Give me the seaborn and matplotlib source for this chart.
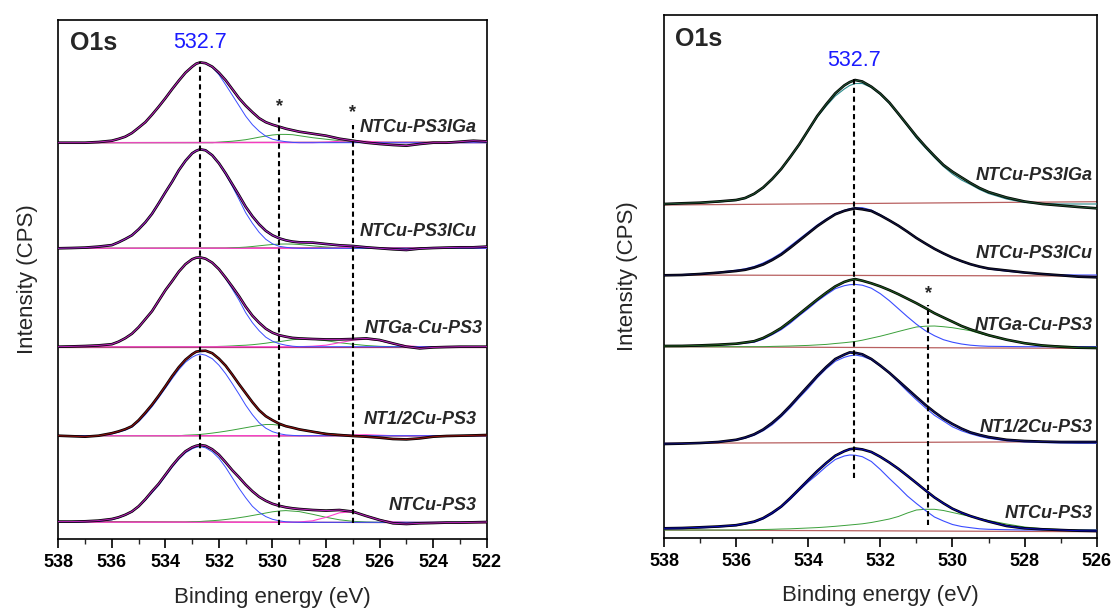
import numpy as np
import pandas as pd
import matplotlib
matplotlib.use("Agg")
import matplotlib.pyplot as plt
import seaborn as sns

# ---------------- DATA ----------------
samples = ["NTCu-PS3IGa", "NTCu-PS3ICu", "NTGa-Cu-PS3", "NT1/2Cu-PS3", "NTCu-PS3"]

# Left panel energy grid (eV)
E_L = [538, 537.5, 537, 536.5,
       536, 535.75, 535.5, 535.25, 535, 534.75, 534.5, 534.25,
       534, 533.75, 533.5, 533.25, 533, 532.85, 532.7, 532.5,
       532.25, 532, 531.75, 531.5, 531.25, 531, 530.75, 530.5,
       530.25, 530, 529.75, 529.5, 529.25, 529,
       528.5, 528, 527.5, 527, 526.5, 526, 525.5, 525,
       524.5, 524, 523.5, 523, 522.5, 522]
# stacking offsets (baseline level of each spectrum, arb. units)
OFF_L = [396.3, 290.7, 192.3, 103.3, 16.7]

L1_env = [0, 0, 0, 0.7,
          2, 3.8, 6, 9.7, 15, 20.5, 28, 36,
          44.5, 53.5, 62, 70, 76, 79, 80.3, 79.5,
          76, 70, 62.5, 53.5, 44.5, 37, 30.5, 24.5,
          20.5, 18, 16, 14, 12.5, 11,
          9, 7, 4, 2, 0, -1.3, -2.3, -3,
          -1.3, 0, 0, 1, 2, 1.3]
L1_blue = [0, 0, 0, 0.5,
           1.8, 3.5, 5.8, 9.5, 14.8, 20.3, 27.8, 35.8,
           44.3, 53.3, 61.8, 69.8, 75.8, 79, 80.3, 79,
           75.5, 68, 58, 47.5, 37, 26.5, 18, 11.5,
           6.5, 3.5, 2, 1, 0.3, 0,
           0, 0, 0, 0, 0, 0, 0, 0,
           0, 0, 0, 0, 0, 0]
L1_green = [0, 0, 0, 0,
            0, 0, 0, 0, 0, 0, 0, 0,
            0, 0, 0, 0, 0, 0, 0, 0,
            0, 0.5, 1, 1.5, 2.2, 3, 4.2, 5.5,
            6.7, 7.7, 8.3, 8.3, 8, 7,
            5, 3.5, 2, 1, 0.3, 0, 0, 0,
            0, 0, 0, 0, 0, 0]
L1_mag = [0, 0, 0, 0,
          0, 0, 0, 0, 0, 0, 0, 0,
          0, 0, 0, 0, 0, 0, 0, 0,
          0, 0, 0, 0, 0, 0, 0, 0,
          0, 0, 0, 0, 0, 0,
          0, 0.5, 1.5, 2, 1.5, 0.5, 0, 0,
          0, 0, 0, 0, 0, 0]

L2_env = [0, 0.3, 0.7, 1.7,
          3.2, 6, 9.3, 13, 19, 26, 34.5, 45,
          56, 66.5, 78, 87.5, 95, 97.5, 99, 98,
          93, 85, 75, 64, 53, 41.5, 32, 24,
          17.5, 13, 10, 8, 6.7, 6,
          5.7, 4.3, 3, 2.3, 1, 0, -1, -1.7,
          -0.3, 0.3, 0.7, 1, 1, 1.7]
L2_blue = [0, 0.3, 0.7, 1.7,
           3.2, 6, 9.3, 13, 19, 26, 34.5, 45,
           56, 66.5, 78, 87.5, 95, 97.5, 99, 98,
           93, 85, 74, 62, 49, 35.5, 25, 16,
           9, 4.5, 2, 1, 0.3, 0,
           0, 0, 0, 0, 0, 0, 0, 0,
           0, 0, 0, 0, 0, 0]
L2_green = [0, 0, 0, 0,
            0, 0, 0, 0, 0, 0, 0, 0,
            0, 0, 0, 0, 0, 0, 0, 0,
            0, 0, 0, 0.5, 0.8, 1.2, 1.8, 2.5,
            3.2, 3.8, 4.2, 4.3, 4.2, 3.8,
            2.5, 1.3, 0.5, 0, 0, 0, 0, 0,
            0, 0, 0, 0, 0, 0]
L2_mag = [0, 0, 0, 0,
          0, 0, 0, 0, 0, 0, 0, 0,
          0, 0, 0, 0, 0, 0, 0, 0,
          0, 0, 0, 0, 0, 0, 0, 0,
          0, 0, 0, 0, 0, 0,
          0, 0, 0.5, 1.2, 1, 0.3, 0, 0,
          0, 0, 0, 0, 0, 0]

L3_env = [0, 0.3, 0.7, 1.3,
          2.5, 5, 8.5, 13, 19.5, 27.5, 35.5, 46,
          56.5, 65.5, 75, 82.5, 87.5, 89, 89.3, 88,
          84, 77.5, 69, 60, 50.5, 40, 31, 24,
          18, 14, 11.5, 10, 8.8, 8.3,
          7.7, 7.3, 7.3, 7.7, 8.3, 6.7, 3.3, 0,
          -1.7, -0.7, -0.3, 0, 0, 0]
L3_blue = [0, 0.3, 0.7, 1.3,
           2.5, 5, 8.5, 13, 19.5, 27.5, 35.5, 46,
           56.5, 65.5, 75, 82.5, 87.5, 89, 89.3, 88,
           84, 77.5, 68, 57.5, 46.5, 34, 24, 16,
           9.5, 5.5, 3, 1.5, 0.5, 0,
           0, 0, 0, 0, 0, 0, 0, 0,
           0, 0, 0, 0, 0, 0]
L3_green = [0, 0, 0, 0,
            0, 0, 0, 0, 0, 0, 0, 0,
            0, 0, 0, 0, 0, 0, 0, 0,
            0, 0.3, 0.5, 0.8, 1.2, 1.5, 2, 2.7,
            3.5, 4.5, 5, 6, 7, 7.5,
            7.5, 6, 4, 2.5, 1.2, 0.4, 0, 0,
            0, 0, 0, 0, 0, 0]
L3_mag = [0, 0, 0, 0,
          0, 0, 0, 0, 0, 0, 0, 0,
          0, 0, 0, 0, 0, 0, 0, 0,
          0, 0, 0, 0, 0, 0, 0, 0,
          0, 0, 0, 0, 0, 0,
          0.5, 1.5, 4, 6.5, 7.5, 6, 3, 1,
          0, 0, 0, 0, 0, 0]

L4_env = [0, -0.5, -1, 0,
          2.5, 4.3, 6.5, 9.5, 15.5, 23, 31, 40,
          49.5, 59.5, 68.5, 76, 81.5, 84, 84.7, 85,
          82.5, 77, 70, 61, 51.5, 42.5, 33.5, 25.5,
          19.5, 15.5, 12, 9.5, 8, 6.3,
          4, 1.7, 0.7, -0.3, -1, -2, -3.3, -3.7,
          -2.7, -1, -0.3, 0, 0.3, 0.7]
L4_blue = [0, 0, 0, 0,
           1.8, 3.5, 5.5, 8.5, 14, 21, 29, 38,
           47.5, 57, 66, 73.5, 78.5, 80.5, 81.7, 80.5,
           77, 70.5, 62, 52, 41.5, 30.5, 21, 13,
           7.5, 4, 2, 0.8, 0.3, 0,
           0, 0, 0, 0, 0, 0, 0, 0,
           0, 0, 0, 0, 0, 0]
L4_green = [0, 0, 0, 0,
            0, 0, 0, 0, 0, 0, 0, 0,
            0, 0, 0, 0.5, 0.8, 1, 1.3, 1.8,
            2.6, 3.5, 4.5, 5.6, 6.8, 8, 9.2, 10.3,
            11.2, 11.2, 10.5, 9.5, 8, 6.5,
            4.3, 2.5, 1, 0.3, 0, 0, 0, 0,
            0, 0, 0, 0, 0, 0]
L4_mag = [0, 0, 0, 0,
          0, 0, 0, 0, 0, 0, 0, 0,
          0, 0, 0, 0, 0, 0, 0, 0,
          0, 0, 0, 0, 0, 0, 0, 0,
          0, 0, 0, 0, 0, 0,
          0, 0, 0.3, 0.8, 1, 0.5, 0, 0,
          0, 0, 0, 0, 0, 0]

L5_env = [0.7, 0.7, 1, 1.7,
          3.3, 5, 7.5, 10.8, 16, 23, 31, 38.5,
          47.5, 56.5, 64.5, 71, 75, 76.5, 77.3, 76.5,
          73, 67.5, 60, 52, 45, 37.5, 31, 25.5,
          21.5, 18.5, 16.5, 15, 14, 13.3,
          12.3, 11.7, 12.3, 10.7, 6.3, 2.3, -1, -1.7,
          -1, -0.7, -0.3, -0.3, 0, 0.3]
L5_blue = [0, 0, 0.5, 1,
           2.5, 4.5, 7, 10.3, 15.5, 22, 29.5, 37,
           46, 55, 63, 69.5, 73.5, 75, 75.7, 74.5,
           70.5, 64, 55, 44.5, 34, 24.5, 16, 10,
           5.7, 3, 1.5, 0.5, 0.2, 0,
           0, 0, 0, 0, 0, 0, 0, 0,
           0, 0, 0, 0, 0, 0]
L5_green = [0, 0, 0, 0,
            0, 0, 0, 0, 0, 0, 0, 0,
            0, 0, 0, 0, 0.5, 0.6, 0.8, 1.2,
            1.6, 2.1, 2.8, 3.6, 4.6, 5.6, 6.8, 8,
            9.3, 10.5, 11.3, 11.7, 11.2, 10.7,
            8, 5, 2.5, 1, 0.3, 0, 0, 0,
            0, 0, 0, 0, 0, 0]
L5_mag = [0, 0, 0, 0,
          0, 0, 0, 0, 0, 0, 0, 0,
          0, 0, 0, 0, 0, 0, 0, 0,
          0, 0, 0, 0, 0, 0, 0, 0,
          0, 0, 0, 0, 0, 0.3,
          1.5, 5, 9.5, 10.5, 6.5, 2.5, 0.5, 0,
          0, 0, 0, 0, 0, 0]

# baseline (start, end) relative to offset
BASE_L = [(0, 0.7), (0, 0.7), (0, 0), (0, -0.3), (0.7, -0.5)]

# Right panel energy grid (eV)
E_R = [538, 537.5, 537, 536.5,
       536, 535.75, 535.5, 535.25, 535, 534.75, 534.5, 534.25,
       534, 533.75, 533.5, 533.25, 533, 532.85, 532.7, 532.5,
       532.25, 532, 531.75, 531.5, 531.25, 531, 530.75, 530.5,
       530.25, 530, 529.75, 529.5, 529.25, 529,
       528.5, 528, 527.5, 527, 526.5, 526]
OFF_R = [334, 263, 191.3, 94.7, 8]

R1_env = [0, 0.7, 1.3, 2.5,
          4, 6, 10.2, 16.5, 25, 35, 47, 59.6,
          73.8, 88, 99.8, 110.7, 118.6, 121.9, 124, 122.5,
          117.3, 110.3, 101.4, 90.3, 79, 67.7, 57.5, 48,
          39, 32.3, 26.6, 21, 16, 12,
          6.5, 2.5, 0, -1.5, -3, -4.3]
R1_comp = [0, 0.5, 1, 2,
           3.5, 5.5, 9.7, 16, 24.5, 34.5, 46.5, 59,
           73, 87, 98, 108, 115, 118.5, 120.5, 120.5,
           116.5, 109.5, 100.5, 89.5, 78, 66, 56, 46.5,
           37.5, 30, 24, 19.5, 14.5, 10.5,
           5, 1.5, 0.5, 0, 0, 0]
R2_env = [-0.3, 0, 1, 2.3,
          4, 5.2, 7.4, 10.5, 15, 20.4, 27.2, 34.4,
          41.6, 48.8, 55, 60.7, 64.1, 65.5, 66.6, 65.7,
          64, 59.6, 54.6, 49.3, 43.3, 37, 31.5, 26.2,
          21.6, 17.4, 13.9, 10.8, 8.4, 6.5,
          4.5, 2.5, 1, -0.3, -1.7, -2.3]
R2_blue = [0, 0.5, 1.3, 2.8,
           4.8, 6.2, 8.5, 12, 16.5, 22, 29, 36,
           43, 50, 56, 61.5, 64.8, 66.3, 67.3, 67.3,
           65, 60.3, 55, 49.5, 43.3, 37, 31.3, 26,
           21.3, 17, 13.5, 10.5, 8, 6,
           3.8, 2, 0.8, 0.2, 0, 0]
R3_env = [0.7, 0.8, 1.3, 2,
          3, 4.2, 5.5, 8.7, 13.3, 18.7, 25.5, 32.7,
          40, 47.2, 54, 60.3, 64.8, 66.5, 67.6, 66,
          63.4, 60.3, 56.6, 52.5, 48, 43.5, 38.6, 33.5,
          29.2, 25, 20.7, 17.3, 14.4, 11.5,
          7, 3.5, 1.2, 0, -1, -1.3]
R3_blue = [0.5, 0.7, 1, 1.6,
           2.5, 3.5, 4.5, 7.5, 12, 17, 23.5, 31,
           38, 45.5, 52, 58, 61, 62, 62.3, 61.5,
           58.5, 53, 46, 38, 30, 22.5, 16, 11,
           7, 4.5, 2.7, 1.5, 0.8, 0.4,
           0.2, 0, 0, 0, 0, 0]
R3_green = [0, 0, 0, 0,
            0, 0, 0, 0, 0.3, 0.5, 0.7, 1,
            1.3, 1.8, 2.3, 3.2, 4, 4.6, 5.2, 6.5,
            8.5, 10.5, 12.8, 15.2, 17.5, 19.7, 20.5, 20.7,
            20, 19, 17.5, 16, 13.3, 11,
            7, 3.5, 1.5, 0.5, 0.2, 0]
R4_env = [-0.7, -0.3, 0.3, 1.3,
          3.5, 5.8, 9, 13.8, 20.4, 28.2, 37.5, 47.5,
          57.4, 67.3, 76.3, 84.3, 88.7, 90.9, 90.5, 89,
          84.3, 77.7, 70.5, 62.5, 54.4, 46.3, 38.4, 31.2,
          24.7, 19.3, 14.7, 10.9, 8.4, 6.3,
          3.5, 2.3, 1.7, 1.3, 1.3, 1.3]
R4_blue = [0, 0, 0.3, 1.2,
           3, 5, 8, 12.5, 18.5, 26.5, 35.5, 45.5,
           55, 65.5, 74.5, 82, 86, 87.5, 88.3, 87,
           83.5, 77, 70, 61, 52, 43.5, 35.5, 28,
           22.3, 16.5, 12.5, 9.5, 7, 5,
           2.5, 1.3, 0.7, 0.3, 0, 0]
R5_env = [1.7, 2, 2.7, 3.5,
          4.8, 6.5, 8.4, 11.9, 17.2, 23.5, 31.9, 40.9,
          50, 58.9, 67, 74.3, 78.8, 80.8, 81.5, 80.6,
          78, 73.2, 67.5, 61.2, 54.2, 47, 39.7, 32.6,
          26.7, 21.3, 17.3, 13.9, 11.1, 8.5,
          4, 1.7, 0.7, 0, -0.7, -1]
R5_blue = [1, 1.3, 2, 3,
           4.3, 5.8, 7.5, 11, 16, 22.5, 30.5, 39.5,
           48, 55.5, 63.5, 70.5, 74, 75, 74.8, 73.3,
           68.5, 60.5, 51.5, 43, 34, 26.5, 19.5, 13,
           9, 5.5, 3.5, 2.3, 1.2, 0.7,
           0.3, 0, 0, 0, 0, 0]
R5_green = [0, 0, 0, 0,
            0, 0, 0.3, 0.5, 0.7, 1, 1.2, 1.6,
            2, 2.4, 3, 3.7, 4.5, 5, 5.5, 6.2,
            7.5, 9.2, 11, 13.5, 17, 20, 20.7, 20.7,
            19.5, 17.5, 15.5, 13.5, 11.5, 9.5,
            6, 3, 1.3, 0.5, 0.2, 0]
BASE_R = [(-1, 2.3), (0, -1), (0, -1.7), (0, 1.7), (0, -1.7)]

# annotations: peak positions and dashed-line spans
PEAK_MAIN = 532.7
STAR_L = [529.75, 527.0]
STAR_R = [530.67]
VL_L = [(532.7, 82.3, 477.3), (529.75, 14, 424), (527.0, 16.3, 414)]
VL_R = [(532.73, 60.3, 460), (530.67, 13, 233)]
STAR_Y_L = [432.3, 426.3]
STAR_Y_R = [244]
LABEL_DY_L = [15, 16.6, 18.4, 16.7, 16.6]
LABEL_DY_R = [28.3, 21.7, 21.7, 15.6, 16.7]

# ---------------- STYLE ----------------
sns.set_theme(style="ticks")
plt.rcParams["font.family"] = ["Liberation Sans", "DejaVu Sans"]
plt.rcParams["axes.linewidth"] = 1.2

fig = plt.figure(figsize=(11.13, 6.08), dpi=100)
axL = fig.add_axes([58.3 / 1113, 1 - 539 / 608, 428.4 / 1113, 519 / 608])
axR = fig.add_axes([664 / 1113, 1 - 538 / 608, 432.7 / 1113, 523 / 608])


def line(ax, x, y, color, lw, z=2):
    df = pd.DataFrame({"E": x, "I": y})
    sns.lineplot(data=df, x="E", y="I", ax=ax, color=color, lw=lw,
                 estimator=None, sort=False, zorder=z)


# ---- left panel ----
left_env = [L1_env, L2_env, L3_env, L4_env, L5_env]
left_blue = [L1_blue, L2_blue, L3_blue, L4_blue, L5_blue]
left_green = [L1_green, L2_green, L3_green, L4_green, L5_green]
left_mag = [L1_mag, L2_mag, L3_mag, L4_mag, L5_mag]
left_fit_col = ["#b020b0", "#a020c0", "#b020b0", "#8a1010", "#b020b0"]
for i in range(5):
    off = OFF_L[i]
    b0, b1 = BASE_L[i]
    line(axL, [E_L[0], E_L[-1]], [off + b0, off + b1], "#b0306e", 0.9, 2)
    line(axL, E_L, np.array(left_green[i]) + off, "#3aa03a", 0.7, 3)
    line(axL, E_L, np.array(left_mag[i]) + off, "#ff40d0", 0.8, 3)
    line(axL, E_L, np.array(left_blue[i]) + off, "#3a4cff", 0.7, 3)
    line(axL, E_L, np.array(left_env[i]) + off, "black", 1.9, 4)
    line(axL, E_L, np.array(left_env[i]) + off, left_fit_col[i], 0.8, 5)
    axL.text(522.37 if i != 2 else 522.15, off + LABEL_DY_L[i], samples[i],
             ha="right", va="center", fontsize=13, fontweight="bold",
             fontstyle="italic")

for (x, y0, y1) in VL_L:
    axL.vlines(x, y0, y1, colors="black", lw=1.5, linestyles=(0, (2.5, 1.7)), zorder=6)
for x, y in zip(STAR_L, STAR_Y_L):
    axL.text(x, y, "*", ha="center", va="center", fontsize=13, fontweight="bold")
axL.text(PEAK_MAIN, 496, "532.7", color="#1a1aff", ha="center", va="center", fontsize=15.5)
axL.text(0.027, 0.956, "O1s", transform=axL.transAxes, ha="left", va="center",
         fontsize=18, fontweight="bold")
axL.set_xlim(538, 522)
axL.set_ylim(0, 519)
axL.set_xticks(np.arange(538, 521, -2))
axL.set_xticks(np.arange(537, 522, -2), minor=True)

# ---- right panel ----
right_env = [R1_env, R2_env, R3_env, R4_env, R5_env]
right_blue = [R1_comp, R2_blue, R3_blue, R4_blue, R5_blue]
right_blue_col = ["#2a8a8a", "#3a4cff", "#3a4cff", "#3a4cff", "#3a4cff"]
right_green = [None, None, R3_green, None, R5_green]
right_fit_col = ["#1f4f2f", "#101040", "#1f5a1f", "#10106e", "#0a0ab0"]
for i in range(5):
    off = OFF_R[i]
    b0, b1 = BASE_R[i]
    line(axR, [E_R[0], E_R[-1]], [off + b0, off + b1], "#b86060", 0.9, 2)
    if right_green[i] is not None:
        line(axR, E_R, np.array(right_green[i]) + off, "#3aa03a", 0.7, 3)
    line(axR, E_R, np.array(right_blue[i]) + off, right_blue_col[i], 0.8, 3)
    line(axR, E_R, np.array(right_env[i]) + off, "black", 1.9, 4)
    line(axR, E_R, np.array(right_env[i]) + off, right_fit_col[i], 0.8, 5)
    axR.text(526.1, off + LABEL_DY_R[i], samples[i], ha="right", va="center",
             fontsize=13, fontweight="bold", fontstyle="italic")

for (x, y0, y1) in VL_R:
    axR.vlines(x, y0, y1, colors="black", lw=1.5, linestyles=(0, (2.5, 1.7)), zorder=6)
for x, y in zip(STAR_R, STAR_Y_R):
    axR.text(x, y, "*", ha="center", va="center", fontsize=13, fontweight="bold")
axR.text(532.73, 477, "532.7", color="#1a1aff", ha="center", va="center", fontsize=15.5)
axR.text(0.025, 0.954, "O1s", transform=axR.transAxes, ha="left", va="center",
         fontsize=18, fontweight="bold")
axR.set_xlim(538, 526)
axR.set_ylim(0, 523)
axR.set_xticks(np.arange(538, 525, -2))
axR.set_xticks(np.arange(537, 526, -2), minor=True)

for ax, ylx, xly in [(axL, -0.047, -0.0925), (axR, -0.06, -0.09)]:
    for s in ax.spines.values():
        s.set_visible(True)
        s.set_linewidth(1.2)
        s.set_color("black")
    ax.set_yticks([])
    ax.tick_params(axis="x", which="major", direction="out", length=6.5, width=1.2,
                   pad=4, labelsize=13, colors="black")
    ax.tick_params(axis="x", which="minor", direction="out", length=3.4, width=1.0)
    ax.set_xticklabels([f"{int(v)}" for v in ax.get_xticks()], fontweight="bold")
    ax.set_xlabel("Binding energy (eV)", fontsize=16)
    ax.set_ylabel("Intensity (CPS)", fontsize=16)
    ax.xaxis.set_label_coords(0.5, xly)
    ax.yaxis.set_label_coords(ylx, 0.5)
    ax.set_facecolor("white")

fig.patch.set_facecolor("white")
fig.savefig("out.png", dpi=100, facecolor="white")
